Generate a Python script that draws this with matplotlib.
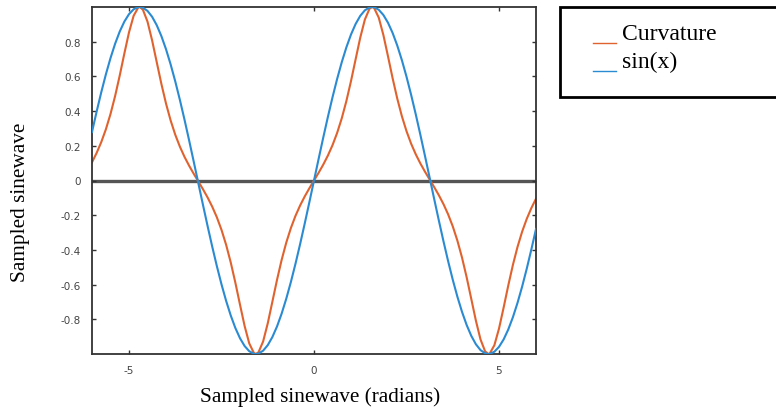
import matplotlib
matplotlib.use("Agg")
from matplotlib import pyplot as plt
from matplotlib.patches import Rectangle
from matplotlib.lines import Line2D

plt.rcParams["axes.unicode_minus"] = False

x_rad = [-6.0, -5.875, -5.75, -5.625, -5.5, -5.375, -5.25, -5.125, -5.0, -4.875,
         -4.75, -4.7124, -4.625, -4.5, -4.375, -4.25, -4.125, -4.0, -3.875, -3.75,
         -3.625, -3.5, -3.375, -3.25, -3.125, -3.0, -2.875, -2.75, -2.625, -2.5,
         -2.375, -2.25, -2.125, -2.0, -1.875, -1.75, -1.625, -1.5708, -1.5, -1.375,
         -1.25, -1.125, -1.0, -0.875, -0.75, -0.625, -0.5, -0.375, -0.25, -0.125,
         0.0, 0.125, 0.25, 0.375, 0.5, 0.625, 0.75, 0.875, 1.0, 1.125,
         1.25, 1.375, 1.5, 1.5708, 1.625, 1.75, 1.875, 2.0, 2.125, 2.25,
         2.375, 2.5, 2.625, 2.75, 2.875, 3.0, 3.125, 3.25, 3.375, 3.5,
         3.625, 3.75, 3.875, 4.0, 4.125, 4.25, 4.375, 4.5, 4.625, 4.7124,
         4.75, 4.875, 5.0, 5.125, 5.25, 5.375, 5.5, 5.625, 5.75, 5.875, 6.0]

sin_vals = [0.2794, 0.3969, 0.5083, 0.6117, 0.7055, 0.7884, 0.8589, 0.9161, 0.9589, 0.9868,
            0.9993, 1.0, 0.9962, 0.9775, 0.9436, 0.8950, 0.8324, 0.7568, 0.6694, 0.5716,
            0.4648, 0.3508, 0.2313, 0.1082, -0.0166, -0.1411, -0.2634, -0.3817, -0.4939, -0.5985,
            -0.6937, -0.7781, -0.8503, -0.9093, -0.9541, -0.9840, -0.9985, -1.0, -0.9975, -0.9809,
            -0.9490, -0.9023, -0.8415, -0.7675, -0.6816, -0.5851, -0.4794, -0.3663, -0.2474, -0.1247,
            0.0, 0.1247, 0.2474, 0.3663, 0.4794, 0.5851, 0.6816, 0.7675, 0.8415, 0.9023,
            0.9490, 0.9809, 0.9975, 1.0, 0.9985, 0.9840, 0.9541, 0.9093, 0.8503, 0.7781,
            0.6937, 0.5985, 0.4939, 0.3817, 0.2634, 0.1411, 0.0166, -0.1082, -0.2313, -0.3508,
            -0.4648, -0.5716, -0.6694, -0.7568, -0.8324, -0.8950, -0.9436, -0.9775, -0.9962, -1.0,
            -0.9993, -0.9868, -0.9589, -0.9161, -0.8589, -0.7884, -0.7055, -0.6117, -0.5083, -0.3969, -0.2794]

curv_vals = [0.1049, 0.1587, 0.2211, 0.2951, 0.3832, 0.4871, 0.6056, 0.7325, 0.8537, 0.9493,
             0.9972, 1.0, 0.9849, 0.9158, 0.8073, 0.6817, 0.5570, 0.4438, 0.3463, 0.2641,
             0.1951, 0.1364, 0.0852, 0.0386, -0.0059, -0.0506, -0.0982, -0.1512, -0.2123, -0.2845,
             -0.3706, -0.4725, -0.5893, -0.7157, -0.8387, -0.9388, -0.9942, -1.0, -0.9901, -0.9277,
             -0.8233, -0.6987, -0.5731, -0.4580, -0.3583, -0.2742, -0.2035, -0.1437, -0.0916, -0.0446,
             0.0, 0.0446, 0.0916, 0.1437, 0.2035, 0.2742, 0.3583, 0.4580, 0.5731, 0.6987,
             0.8233, 0.9277, 0.9901, 1.0, 0.9942, 0.9388, 0.8387, 0.7157, 0.5893, 0.4725,
             0.3706, 0.2845, 0.2123, 0.1512, 0.0982, 0.0506, 0.0059, -0.0386, -0.0852, -0.1364,
             -0.1951, -0.2641, -0.3463, -0.4438, -0.5570, -0.6817, -0.8073, -0.9158, -0.9849, -1.0,
             -0.9972, -0.9493, -0.8537, -0.7325, -0.6056, -0.4871, -0.3832, -0.2951, -0.2211, -0.1587, -0.1049]

x_ticks = [-5, 0, 5]
y_ticks = [-0.8, -0.6, -0.4, -0.2, 0, 0.2, 0.4, 0.6, 0.8]
y_ticklabels = ["-0.8", "-0.6", "-0.4", "-0.2", "0", "0.2", "0.4", "0.6", "0.8"]

ORANGE = "#E0632F"
BLUE = "#2A8BD2"

#----------------------------PLOT-------------------------------
W, H = 776, 410
fig = plt.figure(figsize=(W / 100, H / 100), dpi=100)
ax = fig.add_axes([92 / W, 1 - 355 / H, 444 / W, 347 / H])

ax.axhline(0, color="#555555", lw=2.4, zorder=1)
ax.plot(x_rad, curv_vals, color=ORANGE, lw=1.5, zorder=2)
ax.plot(x_rad, sin_vals, color=BLUE, lw=1.5, zorder=3)

ax.set_xlim(-6, 6)
ax.set_ylim(-1, 1)
ax.set_xticks(x_ticks)
ax.set_yticks(y_ticks)
ax.set_yticklabels(y_ticklabels)
ax.tick_params(direction="in", length=3, width=1, colors="#333333",
               labelcolor="#444444", labelsize=7.5, top=True, right=True,
               labeltop=False, labelright=False, pad=8)
for sp in ax.spines.values():
    sp.set_color("#333333")
    sp.set_linewidth(1.3)

serif = ["Liberation Serif", "DejaVu Serif"]
fig.text(320 / W, 1 - 397 / H, "Sampled sinewave (radians)", family=serif,
         fontsize=15.3, ha="center", va="center")
fig.text(21 / W, 1 - 202 / H, "Sampled sinewave", family=serif,
         fontsize=15.3, ha="center", va="center", rotation=90)

#----------------LEGEND BOX (drawn by hand, cut by right edge)----
fig.add_artist(Rectangle((560 / W, 1 - 98 / H), 240 / W, 90 / H,
                         transform=fig.transFigure, facecolor="white",
                         edgecolor="black", lw=2, clip_on=False))
for label, color, yy in [("Curvature", ORANGE, 34), ("sin(x)", BLUE, 62)]:
    fig.add_artist(Line2D([593 / W, 616 / W], [1 - (yy + 10) / H] * 2,
                          transform=fig.transFigure, color=color, lw=1))
    fig.text(622 / W, 1 - yy / H, label, family=serif, fontsize=17,
             ha="left", va="center")

fig.savefig("out.png", dpi=100)
